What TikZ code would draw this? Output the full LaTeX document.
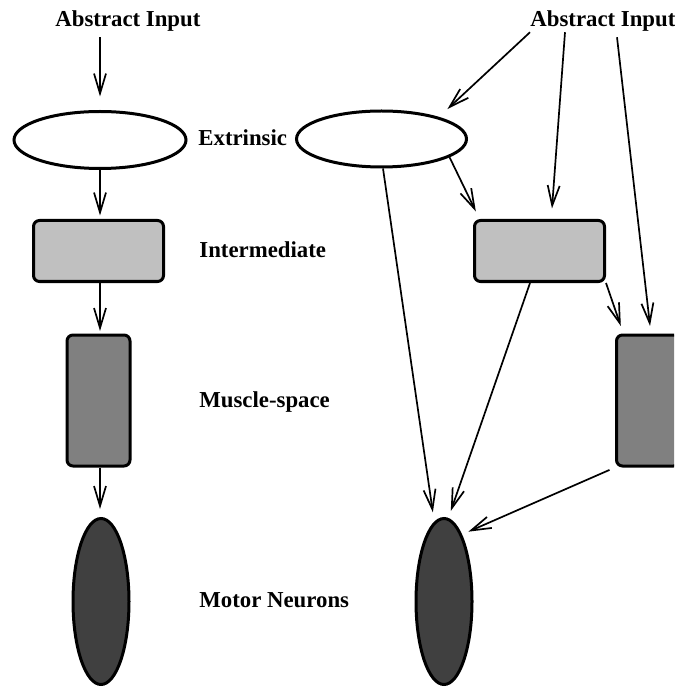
\documentclass[tikz,border=0pt]{standalone}
\usepackage{fontspec}
\setmainfont{Liberation Serif}
\usetikzlibrary{shapes.geometric,arrows.meta}
\definecolor{lg}{HTML}{C0C0C0}
\definecolor{mg}{HTML}{808080}
\definecolor{dg}{HTML}{404040}
\begin{document}
\begin{tikzpicture}[x=0.5pt,y=-0.5pt,
  lbl/.style={font=\fontsize{11.4}{13}\selectfont\bfseries, inner sep=0pt},
  shp/.style={draw=black, line width=1.5pt, inner sep=0pt},
  ell/.style={shp, ellipse},
  box/.style={shp, rectangle, rounded corners=3pt},
  arr/.style={line width=0.85pt, -{Straight Barb[length=10pt,width=6pt]}},
]
\useasboundingbox (0,0) rectangle (674,689);
\clip (0,0) rectangle (674,689);

% texts
\node[lbl, anchor=base west] (ai1) at (55,27) {Abstract Input};
\node[lbl, anchor=base west] (ai2) at (530,27) {Abstract Input};
\node[lbl, anchor=base west] (t1) at (198,146) {Extrinsic};
\node[lbl, anchor=base west] (t2) at (199,257) {Intermediate};
\node[lbl, anchor=base west] (t3) at (199,407) {Muscle-space};
\node[lbl, anchor=base west] (t4) at (199,607) {Motor Neurons};

% shapes
\node[ell, fill=white, minimum width=86pt, minimum height=28.5pt] (ex1) at (100,140) {};
\node[ell, fill=white, minimum width=85pt, minimum height=28pt] (ex2) at (381.5,139) {};
\node[box, fill=lg, minimum width=65pt, minimum height=30.5pt] (r1) at (98.5,251) {};
\node[box, fill=lg, minimum width=65pt, minimum height=30.5pt] (r2) at (539.5,251) {};
\node[box, fill=mg, minimum width=31.5pt, minimum height=65.5pt] (m1) at (98.5,400.5) {};
\node[box, fill=mg, minimum width=31.5pt, minimum height=65.5pt] (m2) at (648,400.5) {};
\node[ell, fill=dg, minimum width=28pt, minimum height=83pt] (d1) at (101,601.5) {};
\node[ell, fill=dg, minimum width=28pt, minimum height=83pt] (d2) at (444,601.5) {};

% left column connectors
\draw[arr, shorten <=2.5pt, shorten >=6.75pt] (ex1.north |- ai1.south) -- (ex1.north);
\draw[arr, shorten >=1.75pt] (ex1.south) -- (ex1.south |- r1.north);
\draw[arr, shorten >=1.25pt] (r1.south -| ex1.south) -- (m1.north -| ex1.south);
\draw[arr, shorten >=4pt] (m1.south -| ex1.south) -- (d1.north -| ex1.south);

% right column connectors
\draw[arr, shorten >=5.8pt] (ai2.south west) -- (ex2.21);
\draw[arr, shorten >=5.3pt] ([xshift=17.5pt]ai2.south west) -- ([xshift=5.85pt]r2.north);
\draw[arr, shorten >=3.8pt] ([xshift=43.5pt,yshift=-2.5pt]ai2.south west) -- ([xshift=1.45pt]m2.north);
\draw[arr, shorten >=4.2pt] (ex2.-15) -- ([xshift=3.25pt]r2.north west);
\draw[arr, shorten >=4.8pt] ([xshift=0.75pt]ex2.south) -- (d2.97);
\draw[arr, shorten >=3.7pt] ([xshift=-4.75pt]r2.south) -- (d2.87.6);
\draw[arr, shorten >=4pt] (r2.south east) -- ([xshift=4.2pt]m2.north west);
\draw[arr, shorten <=3pt, shorten >=3.5pt] (m2.south west) -- (d2.75);
\end{tikzpicture}
\end{document}
